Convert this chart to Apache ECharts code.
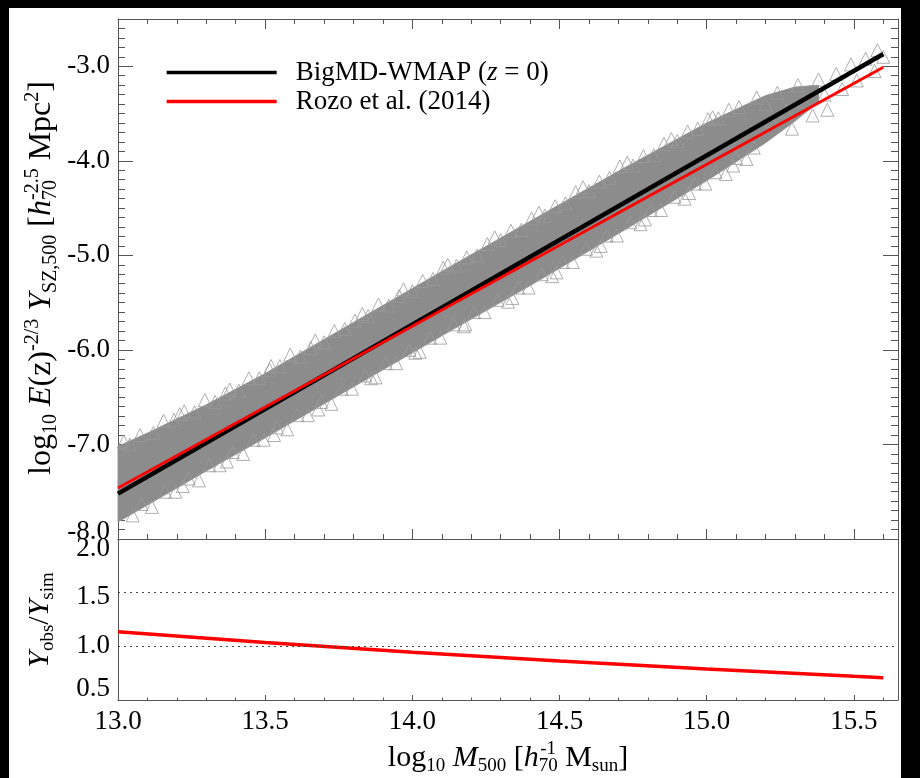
<!DOCTYPE html>
<html><head><meta charset="utf-8">
<script src="https://cdn.jsdelivr.net/npm/echarts@6/dist/echarts.min.js"></script>
<style>html,body{margin:0;padding:0;background:#fff;} #c{width:920px;height:778px;}</style>
</head><body><div id="c"></div>
<script>
// ---- data ----
const xMajorTicks = [13.0, 13.5, 14.0, 14.5, 15.0, 15.5];
const yMajorTicks = [-8, -7, -6, -5, -4, -3];
const ratioTicks = [0.5, 1.0, 1.5, 2.0];
const refLevels = [1.0, 1.5];

const lineMass = [13.0, 15.6];
const bigmdLogY = [-7.52, -2.87];
const rozoLogY = [-7.46, -3.01];

const ratioMass = [13.0, 13.5, 14.0, 14.5, 15.0, 15.5, 15.6];
const ratioVals = [1.135, 1.036, 0.946, 0.864, 0.789, 0.721, 0.708];

// dense scatter envelope (log Y)
const bandMass = [13.00, 13.10, 13.30, 13.50, 13.80, 14.10, 14.40, 14.70, 15.00, 15.20, 15.30, 15.38];
const bandHigh = [-7.02, -6.88, -6.58, -6.25, -5.71, -5.17, -4.64, -4.11, -3.60, -3.31, -3.22, -3.20];
const bandLow  = [-7.82, -7.64, -7.28, -6.93, -6.39, -5.85, -5.32, -4.77, -4.21, -3.81, -3.58, -3.38];

// individual halo triangles visible at the edges of the cloud
const haloMass = [
  13.04,13.12,13.19,13.26,13.33,13.41,13.48,13.55,13.62,13.70,13.77,13.85,13.92,14.00,14.07,14.15,14.22,14.30,14.37,14.45,14.52,14.60,14.67,14.75,14.82,14.90,14.97,15.04,15.11,15.17,
  13.075,13.155,13.225,13.295,13.365,13.445,13.515,13.585,13.655,13.735,13.805,13.885,13.955,14.035,14.105,14.185,14.255,14.335,14.405,14.485,14.555,14.635,14.705,14.785,14.855,14.935,15.005,15.075,
  13.02,13.21,13.38,13.52,13.67,13.83,13.97,14.12,14.28,14.43,14.58,14.73,14.88,15.02,
  13.08,13.16,13.24,13.31,13.39,13.46,13.54,13.61,13.69,13.76,13.84,13.91,13.99,14.06,14.14,14.21,14.29,14.36,14.44,14.51,14.59,14.66,14.74,14.81,14.89,14.96,15.03,15.10,15.16,
  13.115,13.195,13.275,13.345,13.425,13.495,13.575,13.645,13.725,13.795,13.875,13.945,14.025,14.095,14.175,14.245,14.325,14.395,14.475,14.545,14.625,14.695,14.775,14.845,14.925,14.995,15.065,15.135,
  13.05,13.22,13.37,13.53,13.68,13.86,14.01,14.18,14.34,14.49,14.64,14.79,14.94,15.09,
  15.20,15.22,15.24,15.27,15.29,15.31,15.33,15.36,15.38,15.40,15.41,15.44,15.46,15.49,15.51,15.54,15.57,15.58,15.60];
const haloLogY = [
  -7.00,-6.88,-6.74,-6.66,-6.55,-6.43,-6.30,-6.17,-6.07,-5.92,-5.78,-5.64,-5.53,-5.38,-5.25,-5.11,-5.00,-4.84,-4.73,-4.58,-4.45,-4.32,-4.18,-4.05,-3.94,-3.79,-3.66,-3.55,-3.43,-3.33,
  -6.90,-6.75,-6.65,-6.53,-6.46,-6.30,-6.21,-6.05,-5.98,-5.80,-5.69,-5.52,-5.43,-5.27,-5.13,-5.02,-4.88,-4.74,-4.61,-4.48,-4.33,-4.22,-4.06,-3.95,-3.82,-3.69,-3.56,-3.46,
  -6.97,-6.68,-6.42,-6.17,-5.90,-5.62,-5.36,-5.10,-4.81,-4.55,-4.28,-4.02,-3.77,-3.54,
  -7.63,-7.50,-7.36,-7.22,-7.08,-6.95,-6.82,-6.69,-6.55,-6.41,-6.27,-6.14,-6.00,-5.87,-5.73,-5.60,-5.47,-5.34,-5.20,-5.07,-4.93,-4.79,-4.65,-4.52,-4.38,-4.24,-4.12,-3.97,-3.86,
  -7.66,-7.50,-7.38,-7.22,-7.10,-6.95,-6.84,-6.69,-6.57,-6.41,-6.29,-6.14,-6.02,-5.87,-5.75,-5.60,-5.49,-5.34,-5.22,-5.07,-4.95,-4.79,-4.67,-4.52,-4.40,-4.24,-4.14,-3.98,
  -7.75,-7.44,-7.18,-6.90,-6.63,-6.30,-6.03,-5.73,-5.45,-5.18,-4.90,-4.62,-4.34,-4.05,
  -3.40,-3.58,-3.28,-3.47,-3.66,-3.20,-3.38,-3.52,-3.14,-3.30,-3.46,-3.08,-3.24,-2.98,-3.15,-2.92,-3.05,-2.83,-2.90];

// minor tick positions (every 0.1)
const xMinorTicks = []; for (let i = 0; i <= 26; i++) xMinorTicks.push(+(13 + i * 0.1).toFixed(1));
const yMinorTicks = []; for (let i = 0; i <= 55; i++) yMinorTicks.push(+(-8 + i * 0.1).toFixed(1));

const FF = "'Liberation Serif','Times New Roman','DejaVu Serif',serif";
const AX = '#555';
const FS = 27;

function mk(dim, grid, pos, ticks, len, line, labelCfg) {
  const ax = {
    type: 'value', gridIndex: grid, position: pos,
    min: dim === 'x' ? 13 : (grid === 0 ? -8 : 0.5),
    max: dim === 'x' ? 15.65 : (grid === 0 ? -2.5 : 2.0),
    axisLine: { show: line, onZero: false, lineStyle: { color: AX, width: 1 } },
    axisTick: { show: len > 0, inside: true, length: len, customValues: ticks, lineStyle: { color: AX, width: 1 } },
    axisLabel: { show: false, customValues: ticks },
    splitLine: { show: false }
  };
  if (labelCfg) ax.axisLabel = Object.assign({ show: true, customValues: ticks, color: '#000', fontSize: FS, fontFamily: FF, margin: 8, showMinLabel: true, showMaxLabel: true }, labelCfg);
  return ax;
}

function titleRich(TF, SF) {
  return {
    n: { fontSize: TF, fontFamily: FF, lineHeight: TF + 6, fill: '#000' },
    i: { fontSize: TF, fontFamily: FF, fontStyle: 'italic', lineHeight: TF + 6, fill: '#000' },
    sup: { fontSize: SF, fontFamily: FF, lineHeight: SF + 1, verticalAlign: 'top', fill: '#000' },
    sub: { fontSize: SF, fontFamily: FF, lineHeight: SF + 1, verticalAlign: 'bottom', fill: '#000' },
    sup0: { fontSize: SF, fontFamily: FF, lineHeight: SF + 1, verticalAlign: 'top', width: 0, fill: '#000' },
    sub0: { fontSize: SF, fontFamily: FF, lineHeight: SF + 1, verticalAlign: 'bottom', width: 0, fill: '#000' },
    s1: { fontSize: SF, fontFamily: FF, width: SF * 0.5 },
    s2: { fontSize: SF, fontFamily: FF, width: SF * 0.29 },
    s3: { fontSize: SF, fontFamily: FF, width: SF * 0.79 }
  };
}

const richBase = { fontSize: FS, fontFamily: FF, color: '#000' };
const chart = echarts.init(document.getElementById('c'));
chart.setOption({
  animation: false,
  backgroundColor: '#fff',
  grid: [
    { left: 118, top: 19, width: 780, height: 520 },
    { left: 118, top: 539, width: 780, height: 161 }
  ],
  xAxis: [
    mk('x', 0, 'bottom', xMajorTicks, 10, true),
    mk('x', 0, 'bottom', xMinorTicks, 5, false),
    mk('x', 0, 'top', xMajorTicks, 10, true),
    mk('x', 0, 'top', xMinorTicks, 5, false),
    mk('x', 1, 'bottom', xMajorTicks, 5, true, { formatter: v => v.toFixed(1) }),
    mk('x', 1, 'bottom', xMinorTicks, 2.5, false)
  ],
  yAxis: [
    mk('y', 0, 'left', yMajorTicks, 15, true, {
      formatter: v => v === -8 ? '{lo|-8.0}' : '{n|' + v.toFixed(1) + '}',
      rich: { n: richBase, lo: Object.assign({ padding: [0, 0, 14, 0] }, richBase) }
    }),
    mk('y', 0, 'left', yMinorTicks, 7, false),
    mk('y', 0, 'right', yMajorTicks, 15, true),
    mk('y', 0, 'right', yMinorTicks, 7, false),
    mk('y', 1, 'left', ratioTicks, 0, true, {
      formatter: v => v === 2 ? '{hi|2.0}' : v === 0.5 ? '{lo|0.5}' : v === 1.5 ? '{m|1.5}' : '{n|' + v.toFixed(1) + '}',
      rich: {
        n: richBase,
        hi: Object.assign({ padding: [20, 0, 0, 0] }, richBase),
        m: Object.assign({ padding: [8, 0, 0, 0] }, richBase),
        lo: Object.assign({ padding: [0, 0, 22, 0] }, richBase)
      }
    }),
    mk('y', 1, 'right', ratioTicks, 0, true)
  ],
  legend: {
    orient: 'vertical', left: 165, top: 58, padding: 0, itemGap: 0,
    itemWidth: 110, itemHeight: 29,
    itemStyle: { opacity: 0 },
    data: [
      { name: 'BigMD-WMAP (z = 0)', lineStyle: { width: 3.3 } },
      { name: 'Rozo et al. (2014)', lineStyle: { width: 3.3 } }
    ],
    formatter: name => name.indexOf('BigMD') === 0 ? '{n0|BigMD-WMAP (}{i|z}{n| = 0)}' : '{n0|Rozo et al. (2014)}',
    textStyle: {
      fontSize: FS, fontFamily: FF, color: '#000', lineHeight: 29,
      rich: {
        n0: Object.assign({ padding: [0, 0, 0, 14], lineHeight: 29 }, richBase),
        n: Object.assign({ lineHeight: 29 }, richBase),
        i: Object.assign({ fontStyle: 'italic', lineHeight: 29 }, richBase)
      }
    }
  },
  graphic: [
    { type: 'rect', z: 100, shape: { x: 0, y: 0, width: 920, height: 8 }, style: { fill: '#000' } },
    { type: 'rect', z: 100, shape: { x: 0, y: 0, width: 9, height: 778 }, style: { fill: '#000' } },
    { type: 'rect', z: 100, shape: { x: 901, y: 0, width: 19, height: 778 }, style: { fill: '#000' } },
    {
      type: 'text', x: 42, y: 278, rotation: Math.PI / 2, z: 50,
      style: {
        text: '{n|log}{sub|10}{n| }{i|E}{n|(z)}{sup|-2/3}{n| }{i|Y}{sub|SZ,500}{n| [}{i|h}{s1| }{sub0|70}{s2| }{sup0|-2.5}{s3| }{n| Mpc}{sup|2}{n|]}',
        align: 'center', verticalAlign: 'middle', fontSize: 32, fontFamily: FF, fill: '#000',
        rich: titleRich(32, 20)
      }
    },
    {
      type: 'text', x: 40, y: 620, rotation: Math.PI / 2, z: 50,
      style: {
        text: '{i|Y}{sub|obs}{n|/}{i|Y}{sub|sim}',
        align: 'center', verticalAlign: 'middle', fontSize: 30, fontFamily: FF, fill: '#000',
        rich: titleRich(30, 19)
      }
    },
    {
      type: 'text', x: 508, y: 758, z: 50,
      style: {
        text: '{n|log}{sub|10}{n| }{i|M}{sub|500}{n| [}{i|h}{s1| }{sub0|70}{sup0|-1}{s1| }{n| M}{sub|sun}{n|]}',
        align: 'center', verticalAlign: 'middle', fontSize: 30, fontFamily: FF, fill: '#000',
        rich: titleRich(30, 19)
      }
    }
  ],
  series: [
    {
      type: 'custom', name: 'cloud', xAxisIndex: 0, yAxisIndex: 0, silent: true,
      data: [[bandMass[0], bandLow[0]]],
      renderItem: (params, api) => {
        const pts = [];
        for (let i = 0; i < bandMass.length; i++) pts.push(api.coord([bandMass[i], bandHigh[i]]));
        for (let i = bandMass.length - 1; i >= 0; i--) pts.push(api.coord([bandMass[i], bandLow[i]]));
        return { type: 'polygon', shape: { points: pts }, style: { fill: '#8c8c8c', stroke: '#959595', lineWidth: 1 } };
      }
    },
    {
      type: 'scatter', name: 'halos', xAxisIndex: 0, yAxisIndex: 0, silent: true,
      symbol: 'triangle', symbolSize: [13, 13],
      itemStyle: { color: 'rgba(0,0,0,0)', borderColor: '#9a9a9a', borderWidth: 1 },
      data: haloMass.map((m, i) => [m, haloLogY[i]])
    },
    {
      type: 'line', name: 'BigMD-WMAP (z = 0)', xAxisIndex: 0, yAxisIndex: 0,
      symbol: 'none', color: '#000', lineStyle: { color: '#000', width: 4.5 },
      data: lineMass.map((m, i) => [m, bigmdLogY[i]])
    },
    {
      type: 'line', name: 'Rozo et al. (2014)', xAxisIndex: 0, yAxisIndex: 0,
      symbol: 'none', color: '#ff0000', lineStyle: { color: '#ff0000', width: 3 },
      data: lineMass.map((m, i) => [m, rozoLogY[i]])
    },
    {
      type: 'line', name: 'ratio', xAxisIndex: 4, yAxisIndex: 4,
      symbol: 'none', color: '#ff0000', lineStyle: { color: '#ff0000', width: 3.5 },
      data: ratioMass.map((m, i) => [m, ratioVals[i]]),
      markLine: {
        silent: true, symbol: 'none', label: { show: false },
        lineStyle: { color: '#444', type: [2, 4], width: 1 },
        data: refLevels.map(v => ({ yAxis: v }))
      }
    }
  ]
});
</script></body></html>
